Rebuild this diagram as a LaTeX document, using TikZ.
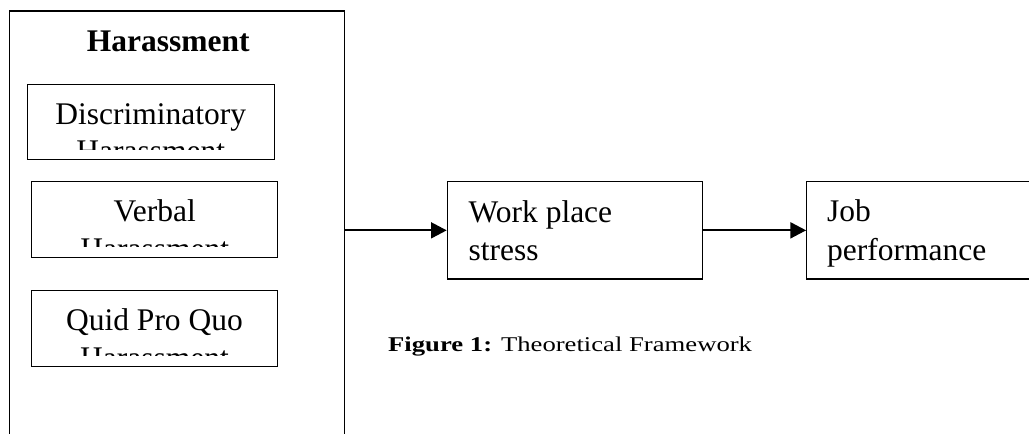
\documentclass[tikz,border=0pt]{standalone}
\usepackage{fontspec}
\setmainfont{Liberation Serif}
\usetikzlibrary{arrows.meta}
\tikzset{
  boxline/.style={draw=black, line width=1.2pt},
  bigtxt/.style={font=\fontsize{31.5}{37.8}\selectfont, inner sep=0pt},
  arr/.style={line width=1.9pt, -{Triangle[length=15.7pt,width=16pt]}},
  capt/.style={font=\fontsize{21}{24}\selectfont, inner sep=0pt, anchor=base west}
}
\begin{document}
\begin{tikzpicture}[x=1pt,y=-1pt]
\useasboundingbox (0,0) rectangle (1029,434);
\clip (0,0) rectangle (1029,434);
\fill[white] (0,0) rectangle (1029,434);
% outer box (open at the bottom of the page)
\node[boxline, minimum width=335pt, minimum height=439pt, inner sep=0pt] (outer) at (176.8,230.5) {};
\node[bigtxt, font=\fontsize{31.5}{37.8}\selectfont\bfseries, anchor=base] (title) at (168.3,51.7) {Harassment};
% inner boxes
\node[boxline, line width=1pt, minimum width=246.3pt, minimum height=75.3pt, inner sep=0pt] (d1) at (150.85,121.65) {};
\node[boxline, line width=1pt, minimum width=246pt, minimum height=75.3pt, inner sep=0pt] (d2) at (154.7,219.35) {};
\node[boxline, line width=1pt, minimum width=246pt, minimum height=75.3pt, inner sep=0pt] (d3) at (154.7,328.35) {};
\node[bigtxt, anchor=base] (d1a) at (150.8,124) {Discriminatory};
\begin{scope}
\clip (27.7,84) rectangle (274,149);
\node[bigtxt, anchor=base] (d1b) at (150.8,161.3) {Harassment};
\end{scope}
\node[bigtxt, anchor=base] (d2a) at (154.7,221.7) {Verbal};
\begin{scope}
\clip (31.7,182) rectangle (277.7,246.7);
\node[bigtxt, anchor=base] (d2b) at (154.7,259) {Harassment};
\end{scope}
\node[bigtxt, anchor=base] (d3a) at (154.5,330) {Quid Pro Quo};
\begin{scope}
\clip (31.7,291) rectangle (277.7,355.7);
\node[bigtxt, anchor=base] (d3b) at (154.5,368) {Harassment};
\end{scope}
% work place stress
\node[boxline, minimum width=255.4pt, minimum height=97.3pt, inner sep=0pt] (work) at (575,230.35) {};
\node[bigtxt, anchor=base west] (w1) at (468.5,222.3) {Work place};
\node[bigtxt, anchor=base west] (w2) at (468.5,260) {stress};
% job performance
\node[boxline, minimum width=240pt, minimum height=97.3pt, inner sep=0pt] (job) at (926.7,230.35) {};
\node[bigtxt, anchor=base west] (j1) at (827,221.7) {Job};
\node[bigtxt, anchor=base west] (j2) at (827,260) {performance};
% arrows
\draw[arr] (outer.east |- work.west) -- (work.west);
\draw[arr] (work.east) -- (job.west);
% caption
\node[capt] (cap) at (388,351.7) {\scalebox{1.27}[1]{\textbf{Figure 1:} Theoretical Framework}};
\end{tikzpicture}
\end{document}
